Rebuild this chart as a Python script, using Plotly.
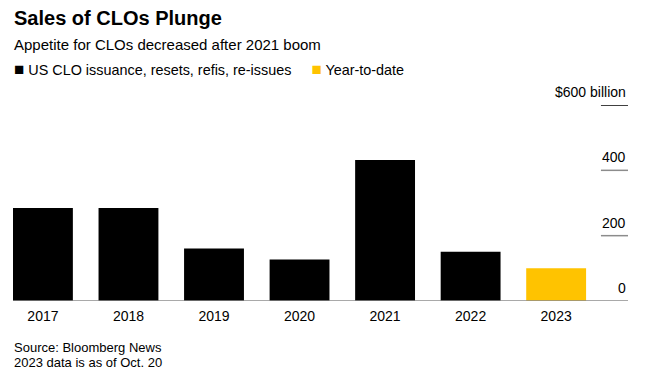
import plotly.graph_objects as go

years = ["2017", "2018", "2019", "2020", "2021", "2022", "2023"]
issuance = [285, 285, 161, 127, 432, 151, None]
ytd = [None, None, None, None, None, None, 100]
tick_vals = [0, 200, 400, 600]
tick_text = ["0", "200", "400", "$600 billion"]

BLACK = "#000000"
GREY = "#8c8c8c"
YELLOW = "#FFC300"
FONT = "Liberation Sans, Arial, sans-serif"

OFF = 8  # page body margin
W, H = 648, 378
ml, mr, mt, mb = 13 - OFF, 20 + OFF, 105 - OFF, 77 + OFF
pw, ph = W - ml - mr, H - mt - mb

fig = go.Figure()
fig.add_trace(go.Bar(x=years, y=issuance, marker_color=BLACK, marker_line_width=0,
                     name="US CLO issuance, resets, refis, re-issues", showlegend=False))
fig.add_trace(go.Bar(x=years, y=ytd, marker_color=YELLOW, marker_line_width=0,
                     name="Year-to-date", showlegend=False))

# short right-side gridlines + labels
for v, t in zip(tick_vals, tick_text):
    x0 = 0 if v == 0 else 0.956
    fig.add_shape(type="line", xref="paper", yref="y", x0=x0, x1=1, y0=v, y1=v,
                  line=dict(color=BLACK if v == 600 else GREY, width=1.5))
    fig.add_annotation(x=1, xref="paper", y=v, yref="y", text=t, showarrow=False,
                       xanchor="right", yanchor="bottom", yshift=3,
                       font=dict(family=FONT, size=14, color=BLACK))

def px(x, y):
    return (x - OFF - ml) / pw, 1 - (y - OFF - mt) / ph

annos = [
    dict(text="<b>Sales of CLOs Plunge</b>", y=18, size=20),
    dict(text="Appetite for CLOs decreased after 2021 boom", y=45, size=15),
    dict(text="<span style='font-size:17px'>■</span> US CLO issuance, resets, refis, re-issues"
              "     <span style='color:" + YELLOW + ";font-size:17px'>■</span> Year-to-date",
         y=70, size=14.4),
    dict(text="Source: Bloomberg News", y=347, size=13),
    dict(text="2023 data is as of Oct. 20", y=362, size=13),
]
for a in annos:
    x, y = px(12, a["y"])
    fig.add_annotation(x=x, xref="paper", y=y, yref="paper", text=a["text"], showarrow=False,
                       xanchor="left", yanchor="middle",
                       font=dict(family=FONT, size=a["size"], color=BLACK))

fig.update_layout(
    width=W, height=H,
    margin=dict(l=ml, r=mr, t=mt, b=mb),
    paper_bgcolor="white", plot_bgcolor="white",
    barmode="overlay", bargap=0.3,
    font=dict(family=FONT, color=BLACK),
    xaxis=dict(range=[-0.35, 6.84], showgrid=False, zeroline=False, showline=False,
               ticks="", tickfont=dict(size=14, color=BLACK), ticklabelstandoff=5),
    yaxis=dict(range=[0, 600], showgrid=False, zeroline=False, showticklabels=False,
               showline=False, ticks=""),
)

fig.write_html("out.html")
